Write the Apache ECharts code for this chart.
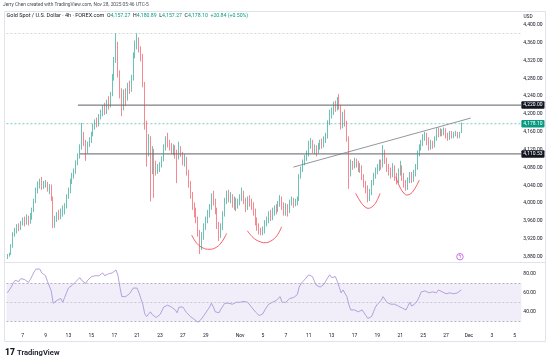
<!DOCTYPE html>
<html><head><meta charset="utf-8">
<script src="https://cdn.jsdelivr.net/npm/echarts@6/dist/echarts.min.js"></script>
<style>html,body{margin:0;padding:0;background:#fff}#c{width:550px;height:364px}</style>
</head><body><div id="c"></div>
<script>
// ---- sessions / categories (4h bars, 6 per trading day; first day only last 2 bars shown)
const sessionDays = ['Oct 3','Oct 6','Oct 7','Oct 8','Oct 9','Oct 10','Oct 13','Oct 14','Oct 15','Oct 16','Oct 17',
 'Oct 20','Oct 21','Oct 22','Oct 23','Oct 24','Oct 27','Oct 28','Oct 29','Oct 30','Oct 31',
 'Nov 3','Nov 4','Nov 5','Nov 6','Nov 7','Nov 10','Nov 11','Nov 12','Nov 13','Nov 14',
 'Nov 17','Nov 18','Nov 19','Nov 20','Nov 21','Nov 24','Nov 25','Nov 26','Nov 27','Nov 28',
 'Dec 1','Dec 2','Dec 3','Dec 4','Dec 5'];
const barHours = ['18:00','22:00','02:00','06:00','10:00','14:00'];
const timeTicks = [['Oct 7','7'],['Oct 9','9'],['Oct 13','13'],['Oct 15','15'],['Oct 17','17'],['Oct 21','21'],['Oct 23','23'],['Oct 27','27'],['Oct 29','29'],['Nov 3','Nov'],['Nov 5','5'],['Nov 7','7'],['Nov 11','11'],['Nov 13','13'],['Nov 17','17'],['Nov 19','19'],['Nov 21','21'],['Nov 25','25'],['Nov 27','27'],['Dec 1','Dec'],['Dec 3','3'],['Dec 5','5']];
const priceTicks = [3880,3920,3960,4000,4040,4080,4120,4160,4200,4240,4280,4320,4360,4400];
const rsiTicks = [40,60,80];

const opens = [3878,3883,3886,3902,3930,3938,3948,3944,3955,3962,
3958,3965,3957,3968,3985,4005,4028,4040,4046,4038,
4042,4045,4035,4038,4010,3950,3965,3972,3968,3978,
3985,3992,4015,4028,4048,4062,4072,4090,4105,4125,
4150,4135,4120,4130,4142,4155,4172,4180,4178,4192,
4200,4212,4205,4225,4218,4245,4280,4320,4350,4290,
4250,4215,4245,4235,4262,4255,4280,4330,4356,4365,
4345,4330,4268,4175,4120,4145,4080,4118,4085,4075,
4078,4085,4098,4125,4140,4132,4128,4118,4125,4112,
4108,4120,4112,4095,4100,4070,4045,4018,3995,3978,
3965,3935,3905,3928,3945,3962,3975,3990,4015,4005,
3985,3950,3930,3948,3975,4005,4020,4010,4015,3998,
4005,3995,4002,4012,4020,4005,3995,4008,4000,3995,
3980,3960,3945,3938,3935,3940,3955,3962,3975,3968,
3980,3988,3985,3998,4010,3995,3980,3992,3985,4000,
4008,3998,4002,4008,4060,4075,4090,4100,4112,4130,
4138,4120,4125,4118,4128,4135,4130,4142,4150,4180,
4198,4205,4220,4212,4232,4215,4175,4195,4180,4145,
4082,4090,4085,4095,4088,4078,4082,4060,4045,4035,
4012,4025,4045,4060,4072,4080,4090,4085,4110,4098,
4080,4072,4065,4078,4060,4052,4070,4080,4060,4045,
4038,4050,4062,4055,4068,4080,4110,4125,4135,4145,
4152,4140,4125,4135,4130,4145,4160,4155,4162,4158,
4165,4152,4148,4158,4150,4155,4157,4150,4157.27];
const closes = [3883,3886,3902,3930,3938,3948,3944,3955,3962,3958,
3965,3957,3968,3985,4005,4028,4040,4046,4038,4042,
4045,4035,4038,4010,3950,3965,3972,3968,3978,3985,
3992,4015,4028,4048,4062,4072,4090,4105,4125,4150,
4135,4120,4130,4142,4155,4172,4180,4178,4192,4200,
4212,4205,4225,4218,4245,4280,4320,4350,4290,4250,
4215,4245,4235,4262,4255,4280,4330,4356,4365,4345,
4330,4268,4175,4120,4145,4080,4118,4085,4075,4078,
4085,4098,4125,4140,4132,4128,4118,4125,4112,4108,
4120,4112,4095,4100,4070,4045,4018,3995,3978,3965,
3935,3905,3928,3945,3962,3975,3990,4015,4005,3985,
3950,3930,3948,3975,4005,4020,4010,4015,3998,4005,
3995,4002,4012,4020,4005,3995,4008,4000,3995,3980,
3960,3945,3938,3935,3940,3955,3962,3975,3968,3980,
3988,3985,3998,4010,3995,3980,3992,3985,4000,4008,
3998,4002,4008,4060,4075,4090,4100,4112,4130,4138,
4120,4125,4118,4128,4135,4130,4142,4150,4180,4198,
4205,4220,4212,4232,4215,4175,4195,4180,4145,4082,
4090,4085,4095,4088,4078,4082,4060,4045,4035,4012,
4025,4045,4060,4072,4080,4090,4085,4110,4098,4080,
4072,4065,4078,4060,4052,4070,4080,4060,4045,4038,
4050,4062,4055,4068,4080,4110,4125,4135,4145,4152,
4140,4125,4135,4130,4145,4160,4155,4162,4158,4165,
4152,4148,4158,4150,4155,4157,4150,4157.26,4178.10];
const highs = [3886,3889,3908,3935,3945,3953,3955,3960,3968,3970,
3975,3972,3978,3990,4010,4035,4049,4055,4059,4050,
4052,4048,4043,4042,4015,3972,3980,3985,3988,3995,
4000,4020,4035,4055,4068,4078,4096,4112,4132,4180,
4160,4142,4138,4148,4160,4178,4188,4192,4200,4210,
4220,4225,4232,4240,4250,4290,4328,4381,4362,4298,
4258,4255,4258,4270,4275,4288,4338,4365,4381,4372,
4352,4335,4272,4185,4155,4150,4128,4122,4095,4088,
4092,4105,4132,4150,4158,4142,4135,4132,4130,4120,
4138,4128,4115,4110,4104,4075,4050,4025,4002,3990,
3970,3940,3935,3955,3970,3985,3998,4022,4028,4010,
3990,3958,3955,3982,4012,4028,4030,4025,4020,4015,
4012,4010,4020,4035,4028,4012,4015,4018,4010,4002,
3988,3968,3955,3945,3948,3962,3970,3982,3985,3990,
3995,3998,4005,4018,4015,4002,4000,3998,4008,4015,
4012,4010,4015,4065,4082,4098,4108,4118,4140,4146,
4142,4132,4130,4135,4142,4145,4150,4158,4186,4210,
4215,4228,4230,4238,4245,4220,4205,4210,4185,4150,
4098,4095,4102,4100,4095,4090,4085,4065,4050,4040,
4032,4052,4068,4080,4088,4098,4098,4130,4120,4102,
4088,4080,4090,4085,4068,4078,4095,4085,4068,4052,
4058,4070,4070,4075,4088,4118,4132,4142,4155,4160,
4158,4148,4142,4140,4150,4168,4170,4168,4166,4170,
4168,4158,4162,4162,4160,4162,4160,4160,4180.89];
const lows = [3875,3880,3884,3900,3925,3932,3937,3940,3950,3948,
3952,3950,3954,3963,3980,4000,4022,4033,4030,4032,
4035,4026,4020,4005,3944,3945,3958,3962,3964,3970,
3975,3988,4010,4022,4043,4055,4066,4085,4100,4120,
4128,4095,4112,4126,4135,4150,4165,4170,4172,4188,
4195,4198,4200,4210,4215,4240,4275,4315,4282,4235,
4195,4208,4218,4230,4245,4250,4275,4325,4345,4338,
4318,4260,4165,4082,4105,4004,4065,4012,4062,4066,
4070,4080,4094,4118,4125,4118,4110,4108,4100,4045,
4098,4104,4085,4082,4062,4035,4010,3985,3968,3955,
3925,3886,3895,3918,3940,3955,3968,3985,3995,3975,
3942,3915,3922,3940,3970,3998,4002,4000,3990,3985,
3982,3988,3995,4005,3998,3980,3985,3992,3985,3972,
3950,3938,3930,3928,3928,3932,3948,3955,3960,3962,
3972,3975,3980,3992,3985,3972,3972,3970,3978,3995,
3990,3993,3995,4005,4055,4070,4085,4095,4105,4122,
4112,4110,4105,4112,4120,4122,4125,4135,4145,4175,
4190,4198,4205,4208,4210,4165,4168,4172,4138,4032,
4060,4075,4078,4080,4070,4068,4052,4035,4022,4002,
4005,4018,4040,4055,4065,4072,4075,4080,4088,4070,
4062,4055,4058,4050,4042,4045,4062,4050,4035,4028,
4030,4045,4045,4048,4060,4075,4105,4118,4128,4140,
4130,4118,4120,4122,4125,4140,4148,4150,4150,4152,
4145,4140,4142,4145,4146,4150,4145,4146,4157.27];
const rsi = [60,62,66,70,73,74,72,75,76,74,
73,71,74,78,82,85,86,85,81,80,
78,72,70,62,49,51,52,53,54,50,
55,60,65,66,68,70,72,74,76,73,
71,70,73,74,77,79,78,77,78,79,
81,78,76,80,82,81,82,84,78,66,
56,54,56,58,59,60,65,66,65,60,
54,48,38,35,37,40,37,36,34,35,
37,39,45,46,47,47,45,44,42,39,
45,44,45,42,39,37,35,33,32,31,
29,28,33,36,39,42,45,49,45,40,
38,39,43,46,49,50,49,49,48,50,
50,51,50,50,51,52,50,48,45,43,
40,38,36,34,38,42,45,48,47,50,
50,52,54,56,50,49,50,49,54,56,
55,54,58,66,70,72,74,76,79,78,
77,72,68,67,66,68,69,71,76,79,
76,76,77,72,66,60,63,65,56,48,
42,42,42,41,40,41,42,39,36,33,
34,35,40,45,48,50,52,56,58,50,
49,48,47,48,50,46,45,44,43,42,
46,50,46,46,49,52,56,61,63,62,
61,60,60,61,60,60,63,62,61,60,
59,58,60,60,59,60,60,60,63];

// levels and drawings (bar index, price)
const resistance = 4220.00, support = 4110.53, lastPrice = 4178.10, highLine = 4381;
const resistanceFrom = 37, supportFrom = 38;
const trendLine = [[150, 4081], [243, 4191]];
const arc1 = [[96.6,3928.6],[99.4,3909.6],[102.6,3899.5],[105.7,3896.6],[108.9,3899.5],[112,3910.7],[115,3932.4]];
const arc2 = [[125.8,3938.3],[128.8,3923.0],[131.9,3914.5],[135.1,3911.4],[138.2,3915.2],[141.4,3927.5],[143.8,3947.3]];
const arc3 = [[182.6,4022.2],[184.9,4005.0],[187,3993.7],[189.2,3988.5],[191.7,3993.7],[193.8,4006.0],[195.4,4022.2]];
const arc4 = [[203.6,4059.4],[205.3,4040.8],[207.4,4025.1],[209.4,4018.4],[211.6,4021.7],[213.7,4033.0],[216,4052.0]];
const eventMark = [237.3, 3880];

const N = 270;
const categories = [];
sessionDays.forEach((d, k) => {
  const hrs = k === 0 ? barHours.slice(4) : barHours;
  hrs.forEach(h => categories.push(d + ' ' + h));
});
categories.length = N;
const tickMap = {};
timeTicks.forEach(([d, t]) => { tickMap[d + ' 18:00'] = t; });

const fmt2 = v => Number(v).toLocaleString('en-US', {minimumFractionDigits: 2, maximumFractionDigits: 2});
const candleData = opens.map((o, i) => [o, closes[i], lows[i], highs[i]]);
const last = opens.length - 1;
const chg = closes[last] - closes[last - 1];

const UP = '#089981', DOWN = '#f23645';
const FONT = 'Roboto, "Liberation Sans", sans-serif';

function hline(y, from, color, width, type, labelText, labelBg) {
  const s = {
    type: 'line', xAxisIndex: 2, yAxisIndex: 0, symbol: 'none', silent: true,
    data: [[from, y], [N - 0.5, y]],
    lineStyle: {color: color, width: width, type: type}, z: 3
  };
  if (labelText) {
    s.endLabel = {show: true, formatter: labelText, backgroundColor: labelBg, color: '#fff',
      fontSize: 5, fontFamily: FONT, padding: [1.5, 2, 1, 2], distance: 0, borderRadius: 1};
  }
  return s;
}
function drawing(pts, color) {
  return {type: 'line', xAxisIndex: 2, yAxisIndex: 0, symbol: 'none', silent: true, smooth: 0.4,
    data: pts, lineStyle: {color: color, width: 0.8}, z: 4};
}

const chart = echarts.init(document.getElementById('c'), null, {renderer: 'canvas'});
chart.setOption({
  animation: false,
  backgroundColor: '#fff',
  textStyle: {fontFamily: FONT},
  grid: [
    {left: 6.45, top: 11, width: 514.9, height: 251},
    {left: 6.45, top: 263, width: 514.9, height: 64}
  ],
  xAxis: [
    {type: 'category', gridIndex: 0, data: categories, boundaryGap: true,
      axisLine: {show: false}, axisTick: {show: false}, axisLabel: {show: false}, splitLine: {show: false}},
    {type: 'category', gridIndex: 1, data: categories, boundaryGap: true,
      axisLine: {show: false}, axisTick: {show: false}, splitLine: {show: false},
      axisLabel: {show: true, interval: (idx, val) => tickMap[val] !== undefined,
        formatter: val => tickMap[val] || '', fontSize: 5, color: '#131722', margin: 6}},
    {type: 'value', gridIndex: 0, min: -0.5, max: N - 0.5, show: false}
  ],
  yAxis: [
    {type: 'value', gridIndex: 0, position: 'right', min: 3868.1, max: 4431.1, scale: true,
      axisLine: {show: false}, axisTick: {show: false}, splitLine: {show: false},
      axisLabel: {customValues: priceTicks, formatter: v => fmt2(v), fontSize: 5, color: '#131722', margin: 2}},
    {type: 'value', gridIndex: 1, position: 'right', min: 24, max: 91.4,
      axisLine: {show: false}, axisTick: {show: false}, splitLine: {show: false},
      axisLabel: {customValues: rsiTicks, formatter: v => Number(v).toFixed(2), fontSize: 5, color: '#131722', margin: 2}}
  ],
  series: [
    {type: 'candlestick', xAxisIndex: 0, yAxisIndex: 0, data: candleData, barWidth: 1.05,
      itemStyle: {color: UP, color0: DOWN, borderColor: UP, borderColor0: DOWN, borderWidth: 0.6}, z: 5},
    hline(highLine, -0.5, '#c3c5cc', 0.7, [2, 2]),
    hline(lastPrice, -0.5, 'rgba(8,153,129,0.75)', 0.7, [2, 2], fmt2(lastPrice), UP),
    hline(resistance, resistanceFrom, '#4a4d57', 0.9, 'solid', fmt2(resistance), '#131722'),
    hline(support, supportFrom, '#4a4d57', 0.9, 'solid', fmt2(support), '#131722'),
    {type: 'line', xAxisIndex: 2, yAxisIndex: 0, symbol: 'none', silent: true, data: trendLine,
      lineStyle: {color: '#787b86', width: 0.8}, z: 4},
    drawing(arc1, DOWN), drawing(arc2, DOWN), drawing(arc3, DOWN), drawing(arc4, DOWN),
    {type: 'scatter', xAxisIndex: 2, yAxisIndex: 0, data: [eventMark], symbol: 'circle', symbolSize: 6.5,
      itemStyle: {color: '#fff', borderColor: '#b142d6', borderWidth: 0.9},
      label: {show: true, position: 'inside', formatter: 'ϟ', color: '#b142d6', fontSize: 5, fontWeight: 'bold'}, z: 6},
    {type: 'line', xAxisIndex: 1, yAxisIndex: 1, data: rsi, symbol: 'none', silent: true,
      lineStyle: {color: '#a38bd6', width: 0.8}, z: 4,
      markArea: {silent: true, itemStyle: {color: 'rgba(126,87,194,0.1)'}, data: [[{yAxis: 30}, {yAxis: 70}]]},
      markLine: {silent: true, symbol: 'none', label: {show: false},
        lineStyle: {color: '#9598a1', type: [2, 2], width: 0.7},
        data: [{yAxis: 70}, {yAxis: 50, lineStyle: {color: '#b8bac2'}}, {yAxis: 30}]}}
  ],
  graphic: [
    {type: 'rect', shape: {x: 4.5, y: 11.5, width: 541, height: 330}, style: {fill: 'none', stroke: '#e0e3eb', lineWidth: 1}, silent: true},
    {type: 'line', shape: {x1: 4.5, y1: 262.5, x2: 545.5, y2: 262.5}, style: {stroke: '#e0e3eb', lineWidth: 1}, silent: true},
    {type: 'text', x: 3, y: 5, silent: true,
      style: {text: 'Jerry Chen created with TradingView.com, Nov 28, 2025 05:46 UTC-5', fontSize: 4.8, fontFamily: FONT, fill: '#4a4d57', verticalAlign: 'middle'}},
    {type: 'text', x: 6.5, y: 16, silent: true,
      style: {
        text: '{t|Gold Spot / U.S. Dollar · 4h · FOREX.com}  {k|O}{v|' + fmt2(opens[last]) + '}  {k|H}{v|' + fmt2(highs[last]) +
          '}  {k|L}{v|' + fmt2(lows[last]) + '}  {k|C}{v|' + fmt2(closes[last]) + '}  {v|+' + fmt2(chg) + ' (+' + (chg / closes[last - 1] * 100).toFixed(2) + '%)}',
        verticalAlign: 'middle', fontFamily: FONT, fontSize: 5.3,
        rich: {t: {fontSize: 5.5, fill: '#131722', fontFamily: FONT}, k: {fontSize: 5.2, fill: '#131722', fontFamily: FONT}, v: {fontSize: 5.2, fill: UP, fontFamily: FONT}}
      }},
    {type: 'text', x: 523.5, y: 16.5, silent: true, style: {text: 'USD', fontSize: 4.8, fontFamily: FONT, fill: '#131722', verticalAlign: 'middle'}},
    {type: 'text', x: 5, y: 353, silent: true, style: {text: '17', fontSize: 8.5, fontWeight: 900, fontFamily: FONT, fill: '#131722', verticalAlign: 'middle'}},
    {type: 'text', x: 17, y: 353, silent: true, style: {text: 'TradingView', fontSize: 7.6, fontWeight: 600, fontFamily: FONT, fill: '#131722', verticalAlign: 'middle'}}
  ]
});
</script>
</body></html>
